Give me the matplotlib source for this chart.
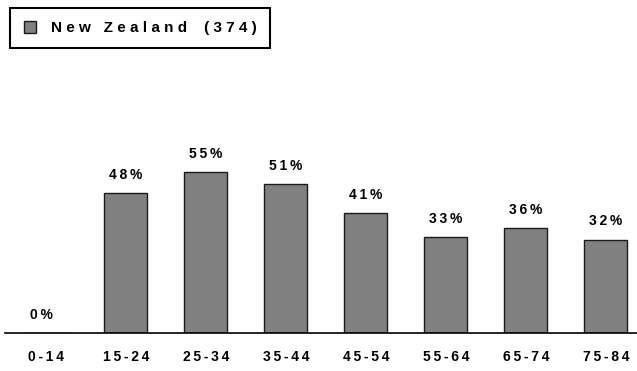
import matplotlib
matplotlib.use("Agg")
import matplotlib.pyplot as plt
from matplotlib.patches import Rectangle

categories = ["0-14", "15-24", "25-34", "35-44", "45-54", "55-64", "65-74", "75-84"]
values = [0, 48, 55, 51, 41, 33, 36, 32]
series_name = "New Zealand (374)"

SP = "\u2009"
def spaced(s, sp=SP):
    return sp.join(list(s))

plt.rcParams['font.family'] = ['Liberation Sans', 'DejaVu Sans']

fig = plt.figure(figsize=(6.37, 3.71), dpi=100)
ax = fig.add_axes([5/637, (371-333)/371, 1 - 5/637, (333-41)/371])
x = list(range(len(categories)))
ax.bar(x, values, width=0.54, color="#808080", edgecolor="#1a1a1a", linewidth=1.0, zorder=2)
ax.set_xlim(-0.51, 7.39)
ax.set_ylim(0, 100)
for s in ["top", "right", "left"]:
    ax.spines[s].set_visible(False)
ax.spines["bottom"].set_linewidth(1.2)
ax.set_yticks([])
ax.set_xticks(x)
ax.set_xticklabels([spaced(c) for c in categories], fontsize=10, fontweight="bold")
ax.tick_params(axis="x", length=0, pad=12)
for xi, v in zip(x, values):
    ax.annotate(spaced(f"{v}%"), (xi - (0.05 if v == 0 else 0), v), xytext=(0, 8),
                textcoords="offset points", ha="center", va="bottom",
                fontsize=10, fontweight="bold")

# legend box
fig.patches.append(Rectangle((10/637, 1 - 48/371), 260/637, 40/371, transform=fig.transFigure,
                             facecolor="white", edgecolor="black", linewidth=1.5))
fig.patches.append(Rectangle((24/637, 1 - 33/371), 12/637, 12/371, transform=fig.transFigure,
                             facecolor="#808080", edgecolor="#1a1a1a", linewidth=1.0))
legend_txt = " ".join(list(series_name)).replace("d   (", "d    (")
fig.text(51/637, 1 - 28/371, legend_txt, fontsize=11,
         fontweight="bold", va="center", ha="left")

fig.savefig("out.png", dpi=100)
